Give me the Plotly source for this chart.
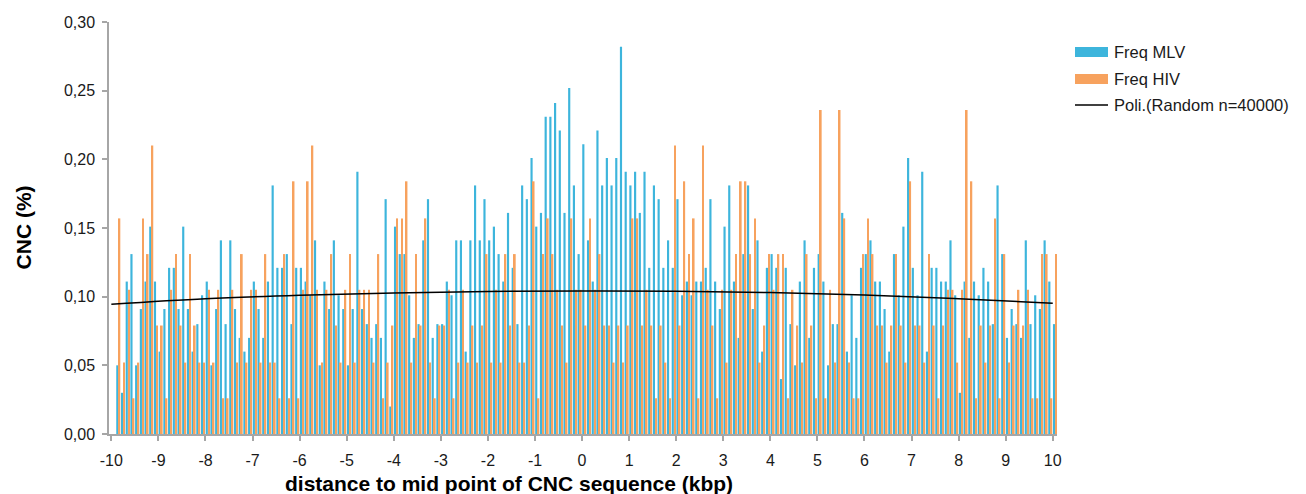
import plotly.graph_objects as go

# Bin centres: 0.1 kbp bins from -9.9 to +10.0 kbp
bin_kbp = [round(-9.9 + 0.1 * i, 1) for i in range(200)]

# Frequency of MLV integrations per bin (%)
freq_mlv = [
    0.050, 0.030, 0.111, 0.131, 0.050, 0.091, 0.111, 0.151, 0.111, 0.060, 0.091, 0.121, 0.121, 0.091, 0.151,
    0.091, 0.060, 0.080, 0.101, 0.111, 0.050, 0.091, 0.141, 0.080, 0.141, 0.091, 0.070, 0.060, 0.070, 0.111, 0.091, 0.070,
    0.111, 0.181, 0.121, 0.121, 0.131, 0.080, 0.121, 0.121, 0.111, 0.101, 0.141, 0.050, 0.111, 0.091, 0.141, 0.101, 0.091,
    0.050, 0.091, 0.191, 0.091, 0.080, 0.070, 0.080, 0.070, 0.171, 0.020, 0.151, 0.131, 0.131, 0.101, 0.070, 0.080, 0.141,
    0.171, 0.070, 0.080, 0.080, 0.111, 0.101, 0.141, 0.141, 0.060, 0.141, 0.181, 0.141, 0.171, 0.141, 0.151, 0.131, 0.111,
    0.161, 0.121, 0.080, 0.181, 0.171, 0.201, 0.151, 0.161, 0.231, 0.231, 0.241, 0.221, 0.161, 0.252, 0.181, 0.131, 0.211,
    0.141, 0.111, 0.221, 0.181, 0.201, 0.181, 0.201, 0.282, 0.191, 0.181, 0.191, 0.161, 0.191, 0.121, 0.181, 0.171, 0.121,
    0.141, 0.121, 0.171, 0.101, 0.111, 0.101, 0.111, 0.111, 0.121, 0.171, 0.111, 0.091, 0.151, 0.181, 0.111, 0.070, 0.131,
    0.181, 0.091, 0.141, 0.060, 0.121, 0.131, 0.121, 0.040, 0.121, 0.080, 0.050, 0.111, 0.141, 0.070, 0.121, 0.131, 0.111,
    0.050, 0.080, 0.080, 0.161, 0.060, 0.101, 0.070, 0.121, 0.131, 0.141, 0.111, 0.111, 0.091, 0.060, 0.131, 0.101, 0.151,
    0.201, 0.121, 0.101, 0.191, 0.060, 0.121, 0.121, 0.111, 0.111, 0.141, 0.101, 0.030, 0.111, 0.070, 0.111, 0.101, 0.121,
    0.111, 0.080, 0.181, 0.131, 0.070, 0.091, 0.080, 0.070, 0.141, 0.080, 0.101, 0.091, 0.141, 0.111, 0.080,
]

# Frequency of HIV integrations per bin (%)
freq_hiv = [
    0.157, 0.052, 0.105, 0.026, 0.052, 0.157, 0.131, 0.210, 0.079, 0.079, 0.026, 0.105, 0.131, 0.079, 0.052,
    0.131, 0.079, 0.052, 0.052, 0.105, 0.052, 0.105, 0.026, 0.026, 0.105, 0.052, 0.131, 0.052, 0.105, 0.105, 0.052, 0.131,
    0.052, 0.052, 0.026, 0.131, 0.026, 0.184, 0.026, 0.105, 0.184, 0.210, 0.105, 0.052, 0.105, 0.131, 0.079, 0.052, 0.105,
    0.131, 0.052, 0.105, 0.105, 0.105, 0.052, 0.131, 0.026, 0.052, 0.079, 0.157, 0.157, 0.184, 0.052, 0.131, 0.079, 0.157,
    0.052, 0.026, 0.079, 0.079, 0.105, 0.026, 0.052, 0.105, 0.052, 0.079, 0.052, 0.079, 0.131, 0.052, 0.105, 0.052, 0.131,
    0.079, 0.131, 0.052, 0.052, 0.079, 0.184, 0.026, 0.131, 0.157, 0.131, 0.105, 0.079, 0.052, 0.157, 0.105, 0.105, 0.079,
    0.157, 0.105, 0.131, 0.079, 0.079, 0.052, 0.079, 0.052, 0.079, 0.157, 0.157, 0.079, 0.105, 0.079, 0.026, 0.079, 0.052,
    0.026, 0.210, 0.079, 0.184, 0.131, 0.157, 0.026, 0.210, 0.105, 0.079, 0.026, 0.105, 0.052, 0.105, 0.131, 0.184, 0.184,
    0.131, 0.157, 0.052, 0.079, 0.131, 0.105, 0.131, 0.131, 0.026, 0.105, 0.079, 0.052, 0.131, 0.079, 0.026, 0.236, 0.026,
    0.105, 0.052, 0.236, 0.157, 0.052, 0.026, 0.026, 0.131, 0.157, 0.131, 0.079, 0.079, 0.052, 0.079, 0.131, 0.079, 0.052,
    0.184, 0.079, 0.079, 0.052, 0.131, 0.079, 0.026, 0.079, 0.105, 0.105, 0.052, 0.105, 0.236, 0.184, 0.026, 0.079, 0.052,
    0.079, 0.157, 0.026, 0.131, 0.052, 0.079, 0.105, 0.079, 0.105, 0.026, 0.026, 0.131, 0.131, 0.026, 0.131,
]

# Polynomial trend of the random control set, sampled every 2 kbp
trend_kbp = [-10, -8, -6, -4, -2, 0, 2, 4, 6, 8, 10]
trend_random = [0.0945, 0.0985, 0.1010, 0.1027, 0.1038, 0.1042, 0.1040, 0.1030, 0.1013, 0.0985, 0.0952]

x_ticks = list(range(-10, 11))
y_ticks = [0.00, 0.05, 0.10, 0.15, 0.20, 0.25, 0.30]

BLUE = "#3DB5DC"
ORANGE = "#F7A25E"
AXIS = "#A6A6A6"
FONT = "Liberation Sans, Arial, sans-serif"

fig = go.Figure()
fig.add_trace(go.Bar(
    x=bin_kbp, y=freq_mlv, name="Freq MLV",
    marker=dict(color=BLUE, line=dict(width=0)),
    offset=0.004, width=0.046, showlegend=False,
))
fig.add_trace(go.Bar(
    x=bin_kbp, y=freq_hiv, name="Freq HIV",
    marker=dict(color=ORANGE, line=dict(width=0)),
    offset=0.054, width=0.036, showlegend=False,
))
fig.add_trace(go.Scatter(
    x=trend_kbp, y=trend_random, name="Poli.(Random n=40000)",
    mode="lines", line=dict(color="black", width=1.5, shape="spline"),
    showlegend=False,
))

fig.update_layout(
    width=1306, height=494,
    margin=dict(l=109, r=249, t=22, b=60),
    paper_bgcolor="white", plot_bgcolor="white",
    barmode="overlay",
    separators=",.",
    font=dict(family=FONT, size=16, color="#1A1A1A"),
    xaxis=dict(
        range=[-10.05, 10.09], tickmode="array", tickvals=x_ticks,
        ticktext=[str(v) for v in x_ticks],
        showline=True, linecolor=AXIS, linewidth=1.5,
        ticks="outside", ticklen=5, tickcolor=AXIS, tickwidth=1.5,
        showgrid=False, zeroline=False, ticklabelstandoff=6,
        tickfont=dict(size=16),
    ),
    yaxis=dict(
        range=[0, 0.30], tickmode="array", tickvals=y_ticks, tickformat=".2f",
        showline=True, linecolor=AXIS, linewidth=1.5,
        ticks="outside", ticklen=5, tickcolor=AXIS, tickwidth=1.5,
        showgrid=False, zeroline=False, ticklabelstandoff=4,
        tickfont=dict(size=16),
    ),
)

# Axis titles
fig.add_annotation(
    text="<b>distance to mid point of CNC sequence (kbp)</b>",
    xref="paper", yref="paper", x=0.422, y=-0.119,
    xanchor="center", yanchor="middle", showarrow=False,
    font=dict(size=21, family=FONT, color="black"),
)
fig.add_annotation(
    text="<b>CNC (%)</b>", textangle=-90,
    xref="paper", yref="paper", x=-0.0905, y=0.502,
    xanchor="center", yanchor="middle", showarrow=False,
    font=dict(size=21, family=FONT, color="black"),
)

# Legend drawn beside the plot area (pixel offsets from its top-right corner)
legend_items = [
    ("Freq MLV", "bar", BLUE, -30),
    ("Freq HIV", "bar", ORANGE, -57),
    ("Poli.(Random n=40000)", "line", "black", -83),
]
for label, kind, color, dy in legend_items:
    if kind == "bar":
        fig.add_shape(
            type="rect", xref="paper", yref="paper",
            xsizemode="pixel", ysizemode="pixel", xanchor=1, yanchor=1,
            x0=18, x1=51, y0=dy - 5, y1=dy + 5,
            fillcolor=color, line=dict(width=0),
        )
    else:
        fig.add_shape(
            type="line", xref="paper", yref="paper",
            xsizemode="pixel", ysizemode="pixel", xanchor=1, yanchor=1,
            x0=18, x1=51, y0=dy, y1=dy,
            line=dict(color=color, width=1.5),
        )
    fig.add_annotation(
        text=label, xref="paper", yref="paper", x=1, y=1,
        xshift=55, yshift=dy, xanchor="left", yanchor="middle",
        showarrow=False, font=dict(size=16.5, family=FONT, color="#1A1A1A"),
    )

fig.write_html("out.html")
